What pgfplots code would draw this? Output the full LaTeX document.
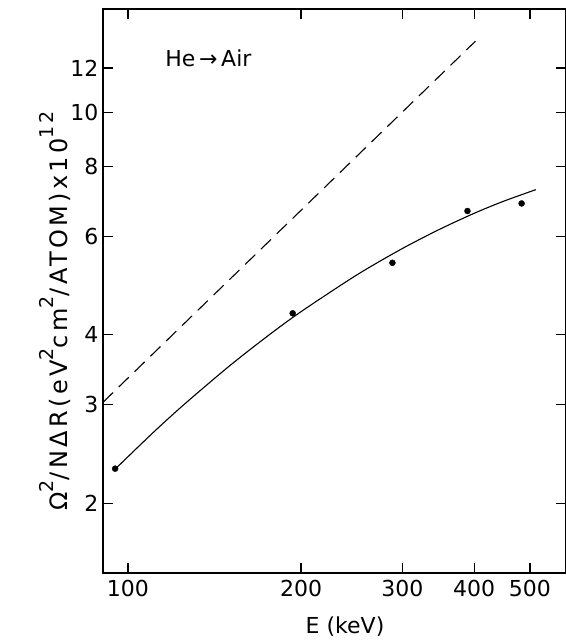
\documentclass[border=0pt]{standalone}
\usepackage{fontspec}
\setmainfont{DejaVu Sans}
\newfontfamily\lblfont[LetterSpace=14]{DejaVu Sans}
\usepackage{pgfplots}
\pgfplotsset{compat=1.18}
\newcommand\sps[1]{\raisebox{0.6em}{\fontsize{19}{19}\selectfont #1}}
\begin{document}
\fontsize{22}{26}\selectfont
\begin{tikzpicture}[x=1pt,y=1pt]
\useasboundingbox (0,0) rectangle (565,642);
\begin{axis}[
  at={(103pt,69pt)}, anchor=south west,
  scale only axis, width=463pt, height=564pt,
  xmode=log, ymode=log,
  xmin=90.5, xmax=577.7, ymin=1.5, ymax=15.3,
  xtick={100,200,300,400,500}, xticklabels={100,200,300,400,500},
  ytick={2,3,4,6,8,10,12}, yticklabels={2,3,4,6,8,10,12},
  minor xtick={}, minor ytick={},
  tick align=inside, major tick length=10pt,
  axis line style={line width=1.6pt},
  every tick/.style={line width=1.2pt, black},
  tick label style={font=\fontsize{22}{26}\selectfont},
  yticklabel style={xshift=3pt},
  xlabel style={font=\fontsize{22}{26}\selectfont},
  ylabel style={font=\lblfont\fontsize{24}{28}\selectfont},
  xlabel={E (keV)},
  ylabel={Ω\sps{2}/NΔR(eV\sps{2}cm\sps{2}/ATOM)x10\sps{12}},
  xlabel style={at={(axis description cs:0.5227,-0.0957)}, anchor=center},
  ylabel style={at={(axis description cs:-0.1035,0.4645)}, anchor=center, rotate=0},
  clip=false,
]
\addplot[black, line width=1.1pt, dash pattern=on 14pt off 8pt] coordinates {(90.5,3.03) (402,13.4)};
\addplot[black, line width=1.1pt, smooth] coordinates {
(95,2.300) (110,2.660) (125,2.998) (150,3.516) (175,3.981) (200,4.400)
(250,5.118) (300,5.706) (350,6.191) (400,6.597) (450,6.933) (512,7.272)};
\addplot[only marks, mark=*, mark size=3pt, black] coordinates {
(95.0,2.305) (193.4,4.37) (288.3,5.38) (389.4,6.66) (483.6,6.87)};
\node[font=\fontsize{22}{26}\selectfont] at (axis cs:138,12.5) {He\,→\,Air};
\end{axis}
\end{tikzpicture}
\end{document}
